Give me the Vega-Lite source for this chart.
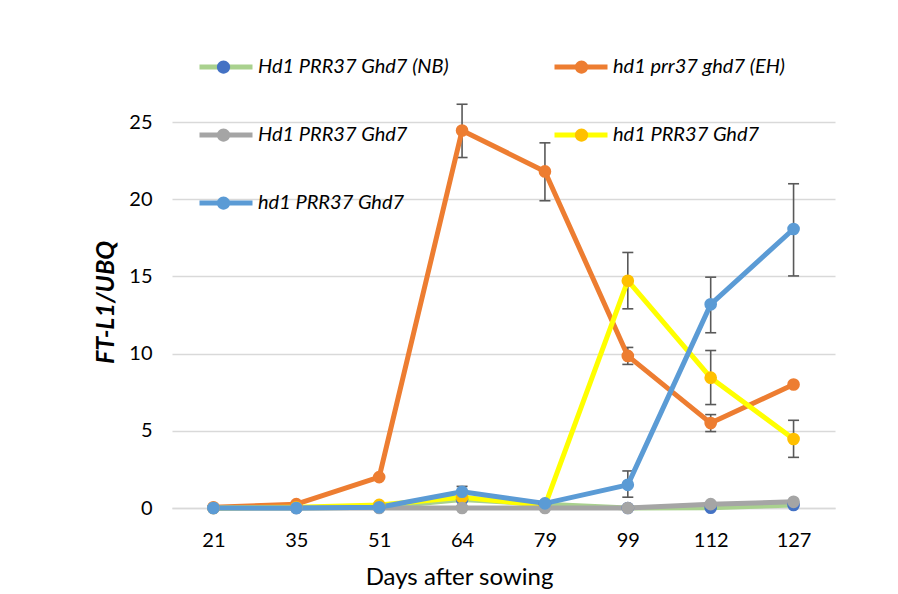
{
  "$schema": "https://vega.github.io/schema/vega-lite/v6.json",
  "autosize": "none",
  "width": 663,
  "height": 386,
  "padding": {"left": 172, "top": 122, "right": 63, "bottom": 86},
  "background": "white",
  "config": {
    "font": "Lato",
    "view": {"stroke": null},
    "axis": {"labelFont": "Lato", "titleFont": "Lato", "labelColor": "#000000", "titleColor": "#000000"}
  },
  "data": {
    "values": [
      {"s": "A", "day": 21, "v": 0},
      {"s": "A", "day": 35, "v": 0},
      {"s": "A", "day": 51, "v": 0.05},
      {"s": "A", "day": 64, "v": 0.55},
      {"s": "A", "day": 79, "v": 0.25},
      {"s": "A", "day": 99, "v": 0},
      {"s": "A", "day": 112, "v": 0.02},
      {"s": "A", "day": 127, "v": 0.2},
      {"s": "B", "day": 21, "v": 0.05},
      {"s": "B", "day": 35, "v": 0.25},
      {"s": "B", "day": 51, "v": 2.0},
      {"s": "B", "day": 64, "v": 24.45, "lo": 22.7, "hi": 26.15},
      {"s": "B", "day": 79, "v": 21.8, "lo": 19.9, "hi": 23.65},
      {"s": "B", "day": 99, "v": 9.85, "lo": 9.3, "hi": 10.4},
      {"s": "B", "day": 112, "v": 5.5, "lo": 4.95, "hi": 6.05},
      {"s": "B", "day": 127, "v": 8.0},
      {"s": "D", "day": 21, "v": 0},
      {"s": "D", "day": 35, "v": 0.05},
      {"s": "D", "day": 51, "v": 0.2},
      {"s": "D", "day": 64, "v": 0.7},
      {"s": "D", "day": 79, "v": 0.15},
      {"s": "D", "day": 99, "v": 14.72, "lo": 12.9, "hi": 16.55},
      {"s": "D", "day": 112, "v": 8.44, "lo": 6.7, "hi": 10.2},
      {"s": "D", "day": 127, "v": 4.47, "lo": 3.28, "hi": 5.68},
      {"s": "C", "day": 21, "v": 0},
      {"s": "C", "day": 35, "v": 0},
      {"s": "C", "day": 51, "v": 0},
      {"s": "C", "day": 64, "v": 0},
      {"s": "C", "day": 79, "v": 0},
      {"s": "C", "day": 99, "v": 0},
      {"s": "C", "day": 112, "v": 0.25},
      {"s": "C", "day": 127, "v": 0.4},
      {"s": "E", "day": 21, "v": 0},
      {"s": "E", "day": 35, "v": 0},
      {"s": "E", "day": 51, "v": 0.05},
      {"s": "E", "day": 64, "v": 1.05, "lo": 0.7, "hi": 1.4},
      {"s": "E", "day": 79, "v": 0.3},
      {"s": "E", "day": 99, "v": 1.5, "lo": 0.7, "hi": 2.4},
      {"s": "E", "day": 112, "v": 13.19, "lo": 11.35, "hi": 14.95},
      {"s": "E", "day": 127, "v": 18.07, "lo": 15.03, "hi": 21.0}
    ]
  },
  "encoding": {
    "x": {
      "field": "day",
      "type": "ordinal",
      "scale": {"type": "point", "padding": 0.5},
      "axis": {
        "title": "Days after sowing",
        "titleFontSize": 24,
        "titleFontWeight": "normal",
        "titlePadding": 15,
        "titleX": 287,
        "labelFontSize": 20,
        "labelAngle": 0,
        "labelPadding": 22,
        "ticks": false,
        "domain": true,
        "domainColor": "#D9D9D9",
        "domainWidth": 1.5,
        "grid": false
      }
    }
  },
  "layer": [
    {
      "transform": [{"filter": "datum.lo != null"}],
      "mark": {"type": "rule", "color": "#595959", "strokeWidth": 1.6},
      "encoding": {
        "y": {"field": "lo", "type": "quantitative", "scale": {"domain": [0, 25]}},
        "y2": {"field": "hi"}
      }
    },
    {
      "transform": [{"filter": "datum.lo != null"}],
      "mark": {"type": "tick", "color": "#595959", "size": 11, "thickness": 1.6, "opacity": 1},
      "encoding": {
        "y": {"field": "lo", "type": "quantitative", "scale": {"domain": [0, 25]}}
      }
    },
    {
      "transform": [{"filter": "datum.lo != null"}],
      "mark": {"type": "tick", "color": "#595959", "size": 11, "thickness": 1.6, "opacity": 1},
      "encoding": {
        "y": {"field": "hi", "type": "quantitative", "scale": {"domain": [0, 25]}}
      }
    },
    {
      "mark": {"type": "line", "strokeWidth": 5, "strokeJoin": "round", "strokeCap": "round"},
      "encoding": {
        "y": {
          "field": "v",
          "type": "quantitative",
          "scale": {"domain": [0, 25]},
          "axis": {
            "title": "FT-L1/UBQ",
            "titleFontSize": 25,
            "titleFontWeight": "bold",
            "titleFontStyle": "italic",
            "titlePadding": 10,
            "titleY": 180,
            "labelFontSize": 20,
            "labelPadding": 20,
            "values": [0, 5, 10, 15, 20, 25],
            "ticks": false,
            "domain": false,
            "grid": true,
            "gridColor": "#D9D9D9",
            "gridWidth": 1.5
          }
        },
        "color": {
          "field": "s",
          "type": "nominal",
          "scale": {"domain": ["A", "B", "C", "D", "E"], "range": ["#A9D18E", "#ED7D31", "#A5A5A5", "#FFFF00", "#5B9BD5"]},
          "legend": {
            "orient": "none",
            "legendX": 25,
            "legendY": -81.5,
            "columns": 2,
            "direction": "horizontal",
            "title": null,
            "symbolType": "M-1,0L1,0",
            "symbolSize": 2809,
            "symbolStrokeWidth": 5,
            "symbolOffset": 0,
            "labelOffset": 3,
            "labelFont": "Lato",
            "labelFontSize": 20,
            "labelFontStyle": "italic",
            "labelColor": "#000000",
            "labelLimit": 400,
            "clipHeight": 53,
            "rowPadding": 15,
            "columnPadding": 103,
            "zindex": 0,
            "labelExpr": "{'A':'Hd1 PRR37 Ghd7 (NB)','B':'hd1 prr37 ghd7 (EH)','C':'Hd1 PRR37 Ghd7','D':'hd1 PRR37 Ghd7','E':'hd1 PRR37 Ghd7'}[datum.label]"
          }
        }
      }
    },
    {
      "mark": {"type": "point", "filled": true, "size": 160, "opacity": 1, "strokeWidth": 0},
      "encoding": {
        "y": {"field": "v", "type": "quantitative", "scale": {"domain": [0, 25]}},
        "fill": {
          "field": "s",
          "type": "nominal",
          "scale": {"range": ["#4472C4", "#ED7D31", "#A5A5A5", "#FFC000", "#5B9BD5"]},
          "legend": {
            "orient": "none",
            "legendX": 25,
            "legendY": -81.5,
            "columns": 2,
            "direction": "horizontal",
            "title": null,
            "symbolType": "M0.25,0A0.25,0.25 0 1,1 -0.25,0A0.25,0.25 0 1,1 0.25,0Z",
            "symbolSize": 2809,
            "symbolStrokeWidth": 0,
            "symbolOffset": 0,
            "labelOffset": 0,
            "labelFontSize": 1,
            "labelLimit": 1,
            "clipHeight": 53,
            "rowPadding": 15,
            "columnPadding": 305,
            "zindex": 1,
            "labelExpr": "''"
          }
        }
      }
    }
  ]
}
